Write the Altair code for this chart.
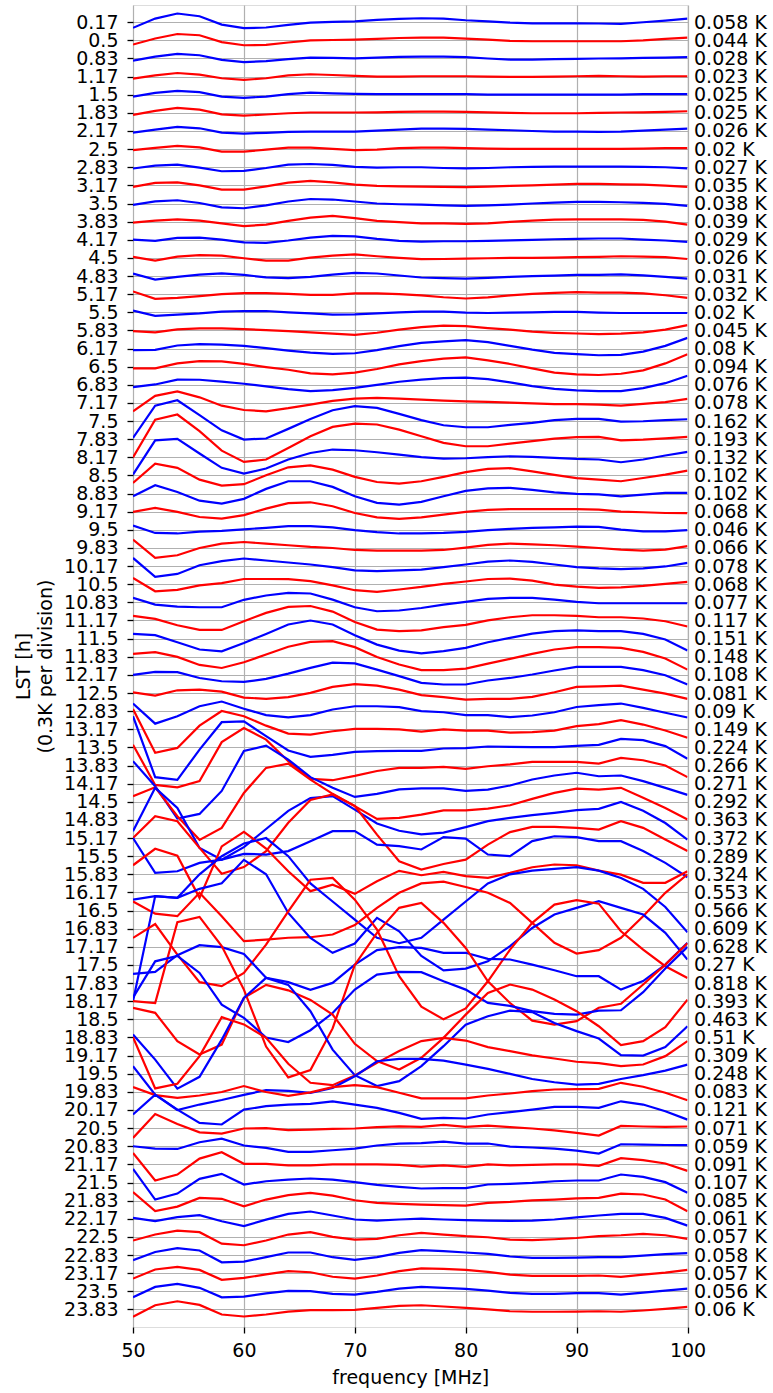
import altair as alt
import pandas as pd

freqs = list(range(50, 101, 2))

lst_labels = ['0.17', '0.5', '0.83', '1.17', '1.5', '1.83', '2.17', '2.5', '2.83', '3.17', '3.5', '3.83',
              '4.17', '4.5', '4.83', '5.17', '5.5', '5.83', '6.17', '6.5', '6.83', '7.17', '7.5', '7.83',
              '8.17', '8.5', '8.83', '9.17', '9.5', '9.83', '10.17', '10.5', '10.83', '11.17', '11.5', '11.83',
              '12.17', '12.5', '12.83', '13.17', '13.5', '13.83', '14.17', '14.5', '14.83', '15.17', '15.5', '15.83',
              '16.17', '16.5', '16.83', '17.17', '17.5', '17.83', '18.17', '18.5', '18.83', '19.17', '19.5', '19.83',
              '20.17', '20.5', '20.83', '21.17', '21.5', '21.83', '22.17', '22.5', '22.83', '23.17', '23.5', '23.83']

rms_labels = ['0.058 K', '0.044 K', '0.028 K', '0.023 K', '0.025 K', '0.025 K', '0.026 K', '0.02 K', '0.027 K',
              '0.035 K', '0.038 K', '0.039 K', '0.029 K', '0.026 K', '0.031 K', '0.032 K', '0.02 K', '0.045 K',
              '0.08 K', '0.094 K', '0.076 K', '0.078 K', '0.162 K', '0.193 K', '0.132 K', '0.102 K', '0.102 K',
              '0.068 K', '0.046 K', '0.066 K', '0.078 K', '0.068 K', '0.077 K', '0.117 K', '0.151 K', '0.148 K',
              '0.108 K', '0.081 K', '0.09 K', '0.149 K', '0.224 K', '0.266 K', '0.271 K', '0.292 K', '0.363 K',
              '0.372 K', '0.289 K', '0.324 K', '0.553 K', '0.566 K', '0.609 K', '0.628 K', '0.27 K', '0.818 K',
              '0.393 K', '0.463 K', '0.51 K', '0.309 K', '0.248 K', '0.083 K', '0.121 K', '0.071 K', '0.059 K',
              '0.091 K', '0.107 K', '0.085 K', '0.061 K', '0.057 K', '0.058 K', '0.057 K', '0.056 K', '0.06 K']

# residuals per LST row, in divisions (1 division = 0.3 K), positive = up
residuals = [
    [-0.31, 0.2, 0.48, 0.33, -0.13, -0.33, -0.29, -0.15, -0.02, 0.02, 0.05, 0.13, 0.18, 0.22, 0.2, 0.11, 0.05, -0.02, -0.06, -0.06, -0.06, -0.07, -0.09, 0.0, 0.09, 0.2],
    [-0.23, 0.1, 0.35, 0.28, -0.1, -0.27, -0.25, -0.12, 0.0, 0.02, 0.04, 0.08, 0.13, 0.15, 0.15, 0.1, 0.04, -0.03, -0.05, -0.05, -0.05, -0.05, -0.05, 0.0, 0.08, 0.15],
    [-0.12, 0.1, 0.25, 0.18, -0.08, -0.2, -0.15, -0.04, 0.05, 0.03, 0.01, 0.05, 0.09, 0.1, 0.1, 0.07, 0.0, -0.06, -0.06, -0.04, -0.02, 0.0, 0.01, 0.03, 0.05, 0.07],
    [-0.11, 0.07, 0.2, 0.11, -0.09, -0.18, -0.09, 0.07, 0.13, 0.09, 0.04, 0.0, 0.0, 0.02, 0.02, 0.02, 0.0, -0.02, -0.02, 0.0, 0.02, 0.04, 0.02, 0.0, 0.02, 0.02],
    [-0.1, 0.1, 0.21, 0.14, -0.1, -0.17, -0.1, 0.03, 0.12, 0.08, 0.05, 0.03, 0.03, 0.03, 0.03, 0.03, 0.01, 0.01, 0.01, 0.01, 0.01, 0.01, 0.01, 0.03, 0.03, 0.03],
    [-0.11, 0.11, 0.27, 0.18, -0.08, -0.15, -0.09, -0.02, 0.02, 0.02, 0.02, 0.03, 0.05, 0.07, 0.07, 0.05, 0.03, 0.0, -0.02, -0.02, -0.02, 0.0, 0.02, 0.03, 0.05, 0.09],
    [-0.09, 0.08, 0.23, 0.15, -0.09, -0.14, -0.1, -0.05, -0.03, -0.03, -0.03, 0.02, 0.08, 0.13, 0.13, 0.12, 0.08, 0.04, 0.0, -0.03, -0.03, -0.05, -0.03, 0.02, 0.08, 0.13],
    [-0.06, 0.07, 0.18, 0.1, -0.14, -0.14, -0.03, 0.08, 0.08, 0.01, -0.06, -0.03, 0.05, 0.08, 0.08, 0.05, 0.03, 0.01, 0.01, 0.01, 0.01, 0.01, 0.01, 0.03, 0.05, 0.05],
    [-0.07, 0.09, 0.15, -0.02, -0.22, -0.2, -0.04, 0.15, 0.18, 0.13, 0.02, -0.02, 0.0, 0.0, -0.04, -0.06, -0.04, 0.0, 0.02, 0.04, 0.04, 0.04, 0.04, 0.02, 0.0, -0.06],
    [-0.08, 0.14, 0.17, 0.0, -0.23, -0.23, -0.05, 0.15, 0.25, 0.17, 0.04, -0.03, -0.05, -0.07, -0.08, -0.1, -0.07, -0.03, 0.0, 0.04, 0.08, 0.08, 0.06, 0.04, -0.01, -0.08],
    [-0.08, 0.12, 0.18, 0.03, -0.21, -0.26, -0.1, 0.11, 0.25, 0.22, 0.11, 0.0, -0.04, -0.06, -0.1, -0.13, -0.1, -0.06, 0.0, 0.05, 0.09, 0.09, 0.07, 0.03, -0.02, -0.13],
    [-0.05, 0.06, 0.13, 0.06, -0.1, -0.25, -0.16, 0.04, 0.22, 0.32, 0.19, 0.04, -0.03, -0.09, -0.1, -0.12, -0.09, -0.01, 0.06, 0.11, 0.13, 0.13, 0.13, 0.1, 0.0, -0.16],
    [0.01, -0.06, 0.1, 0.12, 0.01, -0.14, -0.17, -0.04, 0.12, 0.21, 0.19, 0.05, -0.06, -0.1, -0.08, -0.08, -0.06, -0.03, -0.01, 0.03, 0.05, 0.07, 0.07, 0.01, -0.04, -0.12],
    [0.06, -0.15, 0.07, 0.15, 0.13, -0.02, -0.15, -0.15, 0.02, 0.13, 0.2, 0.09, 0.0, -0.07, -0.06, -0.04, -0.02, 0.0, 0.0, 0.02, 0.04, 0.06, 0.09, 0.07, 0.04, -0.06],
    [0.14, -0.2, -0.05, 0.08, 0.15, 0.06, -0.07, -0.12, -0.05, 0.08, 0.17, 0.14, 0.03, -0.08, -0.12, -0.14, -0.1, -0.05, -0.01, 0.02, 0.06, 0.06, 0.09, 0.04, -0.05, -0.14],
    [0.15, -0.26, -0.2, -0.11, 0.0, 0.06, 0.06, 0.02, -0.04, -0.04, 0.04, 0.04, 0.0, -0.07, -0.17, -0.24, -0.18, -0.07, 0.02, 0.07, 0.11, 0.09, 0.09, 0.04, -0.06, -0.2],
    [0.09, -0.2, -0.13, -0.06, 0.04, 0.07, 0.07, 0.0, -0.06, -0.13, -0.11, -0.06, 0.0, 0.04, 0.04, -0.02, -0.04, -0.02, 0.0, 0.02, 0.02, -0.02, -0.04, -0.04, -0.04, -0.04],
    [-0.04, -0.11, 0.06, 0.11, 0.11, 0.07, 0.02, -0.04, -0.11, -0.18, -0.24, -0.13, 0.04, 0.18, 0.26, 0.24, 0.13, 0.04, -0.07, -0.13, -0.17, -0.2, -0.18, -0.11, 0.04, 0.29],
    [-0.09, -0.07, 0.17, 0.24, 0.22, 0.15, 0.02, -0.11, -0.22, -0.29, -0.26, -0.09, 0.13, 0.31, 0.4, 0.46, 0.35, 0.15, -0.06, -0.24, -0.31, -0.37, -0.35, -0.17, 0.15, 0.59],
    [-0.09, -0.09, 0.18, 0.31, 0.29, 0.15, -0.02, -0.17, -0.37, -0.42, -0.33, -0.13, 0.13, 0.31, 0.44, 0.51, 0.35, 0.15, -0.09, -0.33, -0.42, -0.46, -0.39, -0.2, 0.18, 0.68],
    [-0.13, 0.02, 0.29, 0.28, 0.18, 0.06, -0.09, -0.24, -0.35, -0.29, -0.17, 0.0, 0.17, 0.29, 0.37, 0.4, 0.31, 0.13, -0.07, -0.22, -0.31, -0.35, -0.35, -0.18, 0.09, 0.5],
    [-0.46, 0.39, 0.64, 0.31, -0.15, -0.39, -0.46, -0.29, -0.09, 0.11, 0.24, 0.28, 0.24, 0.18, 0.13, 0.09, 0.06, 0.02, -0.02, -0.06, -0.07, -0.09, -0.15, -0.05, 0.05, 0.22],
    [-0.93, 0.85, 1.15, 0.33, -0.51, -1.02, -0.96, -0.43, 0.12, 0.6, 0.82, 0.73, 0.4, 0.05, -0.23, -0.34, -0.34, -0.21, -0.1, 0.05, 0.12, 0.12, -0.03, -0.01, 0.05, 0.1],
    [-1.0, 1.08, 1.36, 0.44, -0.63, -1.25, -1.12, -0.48, 0.16, 0.68, 0.86, 0.81, 0.53, 0.16, -0.2, -0.39, -0.39, -0.24, -0.11, 0.03, 0.11, 0.13, -0.06, -0.02, 0.05, 0.13],
    [-0.95, 0.94, 1.02, 0.21, -0.58, -0.9, -0.62, -0.12, 0.24, 0.43, 0.39, 0.28, 0.15, 0.01, -0.07, -0.05, 0.01, 0.06, 0.02, -0.03, -0.09, -0.12, -0.27, -0.12, 0.1, 0.3],
    [-0.41, 0.65, 0.42, -0.23, -0.56, -0.48, 0.01, 0.45, 0.56, 0.32, -0.08, -0.36, -0.45, -0.32, -0.08, 0.18, 0.36, 0.4, 0.23, 0.03, -0.15, -0.23, -0.32, -0.14, 0.05, 0.27],
    [-0.15, 0.46, 0.09, -0.39, -0.55, -0.29, 0.26, 0.68, 0.68, 0.37, -0.15, -0.51, -0.61, -0.46, -0.15, 0.15, 0.29, 0.31, 0.2, 0.07, -0.02, -0.04, -0.15, -0.06, 0.04, 0.04],
    [-0.01, 0.21, -0.01, -0.29, -0.38, -0.19, 0.17, 0.47, 0.52, 0.3, -0.07, -0.31, -0.4, -0.31, -0.16, -0.01, 0.1, 0.14, 0.14, 0.14, 0.14, 0.12, 0.01, -0.03, -0.07, -0.08],
    [0.24, -0.17, -0.2, -0.1, -0.06, 0.03, 0.11, 0.2, 0.2, 0.14, -0.02, -0.13, -0.2, -0.2, -0.17, -0.11, -0.02, 0.05, 0.11, 0.14, 0.18, 0.16, 0.01, -0.08, -0.08, -0.02],
    [0.46, -0.55, -0.4, 0.0, 0.24, 0.33, 0.24, 0.15, 0.06, 0.0, -0.11, -0.15, -0.15, -0.15, -0.11, 0.02, 0.17, 0.24, 0.2, 0.15, 0.08, 0.0, -0.09, -0.15, -0.09, 0.1],
    [0.45, -0.59, -0.43, 0.05, 0.27, 0.42, 0.31, 0.2, 0.09, -0.06, -0.24, -0.28, -0.24, -0.19, -0.06, 0.09, 0.25, 0.31, 0.23, 0.09, -0.06, -0.13, -0.17, -0.13, -0.02, 0.18],
    [0.35, -0.39, -0.31, -0.06, 0.06, 0.29, 0.29, 0.28, 0.17, -0.06, -0.33, -0.42, -0.29, -0.15, 0.02, 0.15, 0.29, 0.31, 0.2, -0.02, -0.13, -0.2, -0.17, -0.09, 0.02, 0.13],
    [0.25, -0.12, -0.23, -0.27, -0.27, 0.14, 0.38, 0.52, 0.49, 0.15, -0.27, -0.49, -0.45, -0.31, -0.12, 0.03, 0.19, 0.25, 0.25, 0.15, 0.03, -0.05, -0.05, -0.05, -0.05, -0.05],
    [0.25, 0.09, -0.26, -0.52, -0.52, -0.04, 0.42, 0.75, 0.8, 0.49, -0.08, -0.5, -0.59, -0.54, -0.37, -0.24, 0.01, 0.18, 0.29, 0.29, 0.25, 0.18, 0.18, 0.11, -0.04, -0.33],
    [0.26, 0.19, -0.2, -0.6, -0.7, -0.24, 0.26, 0.78, 1.0, 0.78, 0.19, -0.33, -0.66, -0.81, -0.69, -0.51, -0.2, 0.04, 0.28, 0.41, 0.46, 0.41, 0.41, 0.26, -0.05, -0.66],
    [0.16, 0.25, -0.01, -0.45, -0.62, -0.3, 0.12, 0.55, 0.82, 0.86, 0.53, -0.01, -0.43, -0.74, -0.74, -0.65, -0.38, -0.12, 0.16, 0.4, 0.53, 0.53, 0.49, 0.27, -0.1, -0.71],
    [0.0, 0.17, 0.15, -0.17, -0.35, -0.39, -0.22, 0.07, 0.39, 0.68, 0.63, 0.29, -0.07, -0.44, -0.53, -0.53, -0.31, -0.17, 0.02, 0.24, 0.44, 0.44, 0.44, 0.26, -0.02, -0.53],
    [0.04, -0.14, 0.15, 0.19, 0.08, -0.25, -0.32, -0.23, 0.01, 0.34, 0.49, 0.41, 0.19, -0.12, -0.23, -0.36, -0.32, -0.32, -0.21, 0.04, 0.34, 0.37, 0.41, 0.19, -0.03, -0.32],
    [0.42, -0.69, -0.28, 0.27, 0.53, 0.13, -0.22, -0.34, -0.22, 0.09, 0.27, 0.27, 0.22, 0.0, -0.06, -0.22, -0.22, -0.33, -0.24, -0.06, 0.23, 0.33, 0.42, 0.18, -0.09, -0.35],
    [1.12, -1.3, -1.03, 0.2, 1.01, 0.72, 0.2, -0.24, -0.29, -0.11, 0.02, 0.02, -0.01, -0.13, -0.01, -0.07, -0.07, -0.18, -0.16, -0.07, 0.17, 0.28, 0.5, 0.26, -0.07, -0.47],
    [1.72, -1.64, -1.79, -0.12, 1.39, 1.44, 0.62, -0.17, -0.52, -0.41, -0.25, -0.21, -0.19, -0.19, -0.06, -0.04, 0.05, 0.03, 0.01, 0.01, 0.08, 0.14, 0.47, 0.4, 0.07, -0.63],
    [1.15, -1.07, -1.2, -0.86, 1.29, 2.07, 1.43, 0.24, -0.74, -0.81, -0.57, -0.3, -0.13, -0.13, -0.07, -0.18, -0.04, 0.06, 0.2, 0.2, 0.2, 0.11, 0.42, 0.29, 0.0, -0.64],
    [1.24, -0.14, -1.92, -1.67, -0.4, 1.8, 2.1, 1.33, 0.36, -0.23, -0.73, -0.56, -0.32, -0.26, -0.26, -0.4, -0.33, -0.1, 0.23, 0.45, 0.6, 0.41, 0.45, 0.14, -0.23, -0.62],
    [0.31, 0.8, -0.8, -2.1, -1.44, 0.49, 1.87, 2.1, 1.22, 0.44, -0.24, -0.94, -0.89, -0.71, -0.47, -0.47, -0.38, -0.19, 0.16, 0.49, 0.73, 0.67, 0.77, 0.22, -0.34, -0.98],
    [-0.62, 1.77, 0.66, -1.55, -2.2, -1.5, -0.5, 0.5, 1.2, 1.31, 0.57, -0.2, -0.6, -0.8, -0.7, -0.4, -0.07, 0.11, 0.26, 0.39, 0.54, 0.61, 0.99, 0.51, -0.17, -1.09],
    [0.0, 1.2, 0.93, -0.54, -1.97, -1.6, -0.72, 0.84, 2.1, 2.4, 1.77, 0.19, -1.28, -1.74, -1.43, -1.19, -0.36, 0.33, 0.62, 0.62, 0.56, 0.47, 0.93, 0.56, -0.08, -0.72],
    [1.0, -0.92, -0.83, -0.37, -0.19, 0.13, 0.09, 0.28, 0.83, 1.38, 1.38, 0.64, 0.55, 0.37, 1.05, 0.97, 0.09, 0.0, 0.83, 1.1, 1.05, 0.83, 0.83, 0.28, -0.37, -1.16],
    [0.5, 1.41, 1.03, -1.3, 1.54, 2.34, 1.42, 0.17, -0.93, -0.57, -1.08, -0.38, 0.19, -0.05, 0.13, -0.1, -0.2, 0.08, 0.39, 0.54, 0.5, 0.2, -0.02, -0.47, -0.47, 0.17],
    [-0.4, -0.2, -0.3, 1.0, 2.0, 2.7, 3.0, 2.0, 0.5, -0.5, -1.5, -2.5, -2.8, -2.5, -1.5, -0.5, 0.5, 1.0, 1.2, 1.3, 1.4, 1.2, 0.8, 0.2, -0.8, -2.2],
    [0.5, -0.17, -0.31, 0.98, -0.31, -1.69, -1.6, -1.5, -1.47, -1.32, -0.8, 0.15, 0.98, 1.5, 1.6, 1.3, 0.98, 0.42, -0.68, -1.78, -2.37, -2.18, -1.5, -0.31, 0.98, 2.0],
    [-4.0, 1.8, 1.7, 2.2, 2.5, 3.8, 3.0, 0.87, -0.51, -1.33, -0.82, 0.6, -0.14, -1.5, -2.3, -2.2, -1.8, -0.96, 0.04, 0.78, 1.15, 1.52, 1.15, 0.78, -0.23, -1.7],
    [0.49, 1.26, -0.43, -1.95, -2.17, -1.44, 0.12, 1.96, 3.7, 3.8, 2.6, 0.95, -1.62, -3.3, -4.0, -3.4, -1.9, -0.15, 1.32, 2.33, 2.57, 2.38, 0.86, -0.15, -1.07, -1.72],
    [-0.49, -0.38, 0.54, 1.09, 0.98, 0.61, -0.71, -0.95, -1.37, -0.99, 0.02, 0.82, 0.98, 0.94, 0.67, 0.67, 0.34, 0.3, 0.02, -0.29, -0.62, -0.62, -1.36, -0.89, 0.02, 1.22],
    [-1.0, -1.1, 3.36, 3.65, 2.04, -0.36, -3.5, -5.2, -4.8, -2.5, 1.0, 2.77, 4.15, 4.42, 3.32, 1.94, 0.1, -1.1, -2.07, -2.29, -2.1, -1.36, -1.14, -0.08, 1.02, 2.2],
    [0.2, 2.2, 2.5, 1.56, -0.19, -0.92, -2.0, -2.25, -1.6, -0.65, 0.64, 1.47, 1.62, 1.6, 1.1, 0.64, -0.09, -0.26, -0.55, -0.7, -0.74, -0.52, -0.5, 0.5, 1.8, 3.0],
    [0.63, 0.36, -1.2, -1.94, -1.39, 1.19, 1.9, 1.6, 1.07, 0.26, -1.35, -2.3, -2.77, -2.12, -1.02, 0.26, 1.46, 1.92, 1.64, 1.09, 0.45, -0.38, -1.42, -1.2, -0.43, 1.09],
    [0.16, -1.22, -2.82, -2.17, -0.12, 2.18, 3.29, 2.9, 1.45, -0.67, -2.08, -2.68, -2.41, -1.58, -0.48, 0.71, 1.17, 1.48, 1.4, 0.8, 0.35, -0.06, -0.97, -1.0, -0.53, 0.62],
    [1.02, -1.81, -1.55, -0.03, 2.12, 1.72, 0.98, -0.45, -1.5, -1.63, -1.1, -0.4, 0.25, 0.8, 0.98, 0.83, 0.47, 0.25, 0.01, -0.16, -0.34, -0.42, -0.58, -0.49, -0.03, 0.8],
    [0.41, -1.15, -2.0, -1.7, -1.45, -1.17, -0.9, -0.95, -1.06, -0.78, -0.14, 0.69, 0.82, 0.82, 0.72, 0.5, 0.27, -0.01, -0.29, -0.47, -0.6, -0.56, -0.29, -0.08, 0.17, 0.5],
    [0.26, -0.18, -0.33, -0.2, -0.01, 0.32, -0.01, -0.22, -0.03, 0.26, 0.37, 0.26, -0.05, -0.36, -0.36, -0.36, -0.2, -0.09, 0.04, 0.13, 0.15, 0.17, 0.5, 0.28, -0.05, -0.46],
    [-0.25, 0.85, 0.02, -0.71, -0.8, 0.02, 0.21, 0.3, 0.34, 0.48, 0.3, 0.12, -0.16, -0.49, -0.44, -0.47, -0.25, -0.12, 0.02, 0.17, 0.17, 0.12, 0.48, 0.3, -0.07, -0.53],
    [-0.54, 0.78, 0.23, -0.23, -0.3, -0.02, 0.0, -0.11, -0.08, -0.04, -0.02, 0.05, 0.1, 0.07, 0.18, 0.07, 0.14, 0.05, -0.02, -0.12, -0.26, -0.41, 0.12, 0.09, 0.07, 0.09],
    [0.0, -0.13, -0.15, 0.22, 0.42, 0.04, -0.09, -0.31, -0.31, -0.22, -0.13, 0.04, 0.15, 0.17, 0.26, 0.15, 0.15, -0.02, -0.07, -0.13, -0.24, -0.4, 0.11, 0.09, 0.07, 0.06],
    [0.63, -0.89, -0.56, 0.32, 0.67, 0.03, 0.03, -0.06, -0.05, 0.0, 0.0, 0.0, -0.03, -0.12, -0.06, -0.14, 0.0, -0.06, -0.03, 0.0, 0.0, -0.08, 0.34, 0.23, 0.05, -0.36],
    [0.75, -0.94, -0.61, 0.2, 0.48, -0.11, 0.07, 0.16, 0.22, 0.16, 0.02, -0.13, -0.24, -0.33, -0.31, -0.31, -0.11, -0.07, -0.02, 0.07, 0.11, 0.11, 0.44, 0.31, 0.02, -0.57],
    [0.47, -0.58, -0.33, 0.15, 0.1, -0.31, 0.06, 0.3, 0.43, 0.28, 0.02, -0.12, -0.18, -0.22, -0.25, -0.27, -0.12, -0.07, 0.01, 0.06, 0.12, 0.15, 0.39, 0.34, 0.06, -0.58],
    [0.05, -0.13, 0.09, 0.2, -0.14, -0.4, -0.05, 0.27, 0.4, 0.18, -0.04, -0.1, -0.04, 0.01, -0.04, -0.08, -0.1, -0.12, -0.1, -0.04, 0.08, 0.18, 0.27, 0.27, 0.05, -0.38],
    [-0.2, 0.13, 0.35, 0.26, -0.37, -0.46, -0.2, 0.13, 0.26, 0.0, -0.15, -0.11, 0.09, 0.22, 0.13, 0.04, -0.02, -0.15, -0.18, -0.13, -0.06, 0.04, 0.09, 0.17, 0.09, -0.11],
    [-0.28, 0.17, 0.38, 0.25, -0.4, -0.36, -0.12, 0.14, 0.14, -0.12, -0.27, -0.12, 0.12, 0.27, 0.21, 0.14, 0.06, -0.08, -0.16, -0.16, -0.14, -0.12, -0.12, -0.03, 0.05, 0.1],
    [-0.3, 0.2, 0.35, 0.18, -0.37, -0.26, -0.07, 0.11, 0.05, -0.2, -0.3, -0.13, 0.11, 0.26, 0.24, 0.18, 0.07, -0.08, -0.15, -0.15, -0.15, -0.13, -0.2, -0.08, 0.03, 0.18],
    [-0.33, 0.24, 0.41, 0.19, -0.33, -0.29, -0.12, 0.02, 0.01, -0.14, -0.18, -0.03, 0.15, 0.24, 0.19, 0.13, 0.04, -0.09, -0.14, -0.14, -0.1, -0.1, -0.18, -0.07, 0.04, 0.15],
    [-0.41, 0.23, 0.45, 0.25, -0.28, -0.39, -0.28, -0.12, -0.04, -0.04, -0.02, 0.09, 0.2, 0.23, 0.16, 0.09, 0.0, -0.1, -0.13, -0.13, -0.12, -0.1, -0.13, -0.06, 0.03, 0.14],
]

rows = []
for i, vals in enumerate(residuals):
    for f, v in zip(freqs, vals):
        rows.append({"row": i, "freq": f, "pos": i - v, "col": "b" if i % 2 == 0 else "r"})
df = pd.DataFrame(rows)
ticks_df = pd.DataFrame({"row": list(range(len(lst_labels)))})

FONT = "DejaVu Sans"
FS = 19
ydom = [-0.95, 71.97]

lst_js = "[" + ",".join("'%s'" % s for s in lst_labels) + "]"
rms_js = "[" + ",".join("'%s'" % s for s in rms_labels) + "]"

lines = alt.Chart(df).mark_line(strokeWidth=2.2, clip=True).encode(
    x=alt.X("freq:Q",
            scale=alt.Scale(domain=[50, 100], nice=False, zero=False),
            axis=alt.Axis(values=[50, 60, 70, 80, 90, 100], format="d",
                          title="frequency [MHz]", grid=True, gridColor="#b0b0b0", gridWidth=1.2,
                          tickSize=6, tickWidth=1.3, tickColor="black", domain=False,
                          labelFont=FONT, labelFontSize=FS, labelColor="black", labelPadding=8,
                          labelFlush=False,
                          titleFont=FONT, titleFontSize=FS, titleFontWeight="normal", titleColor="black",
                          titleBaseline="alphabetic", titleY=56)),
    y=alt.Y("pos:Q",
            scale=alt.Scale(domain=ydom, reverse=True, nice=False, zero=False),
            axis=alt.Axis(values=list(range(72)), labelExpr=lst_js + "[datum.value]",
                          title=["LST [h]", "(0.3K per division)"],
                          grid=True, gridColor="#b0b0b0", gridWidth=1.2,
                          tickSize=6, tickWidth=1.3, tickColor="black", domain=False,
                          labelFont=FONT, labelFontSize=FS, labelColor="black", labelPadding=9,
                          labelBaseline="middle", labelOverlap=False, labelFlush=False,
                          titleFont=FONT, titleFontSize=FS, titleFontWeight="normal", titleColor="black",
                          titleAngle=-90, titleBaseline="bottom", titleX=-100, titleLineHeight=22)),
    color=alt.Color("col:N", scale=alt.Scale(domain=["b", "r"], range=["#0000ff", "#ff0000"]), legend=None),
    detail="row:N",
)

right = alt.Chart(ticks_df).mark_point(opacity=0).encode(
    x=alt.value(0),
    y=alt.Y("row:Q",
            scale=alt.Scale(domain=ydom, reverse=True, nice=False, zero=False),
            axis=alt.Axis(orient="right", values=list(range(72)), labelExpr=rms_js + "[datum.value]",
                          title=None, grid=False, ticks=False, tickSize=0, domain=False,
                          labelFont=FONT, labelFontSize=FS, labelColor="black", labelPadding=6,
                          labelBaseline="middle", labelOverlap=False, labelFlush=False)),
)

chart = alt.layer(lines, right).resolve_scale(y="independent").properties(
    width=554.5, height=1322,
    autosize=alt.AutoSizeParams(type="none"),
    padding={"left": 133, "top": 5, "right": 85.5, "bottom": 66},
).configure_view(stroke="black", strokeWidth=1.3).configure(background="white")

chart.save("out.html", embed_options={"renderer": "svg", "actions": False})
